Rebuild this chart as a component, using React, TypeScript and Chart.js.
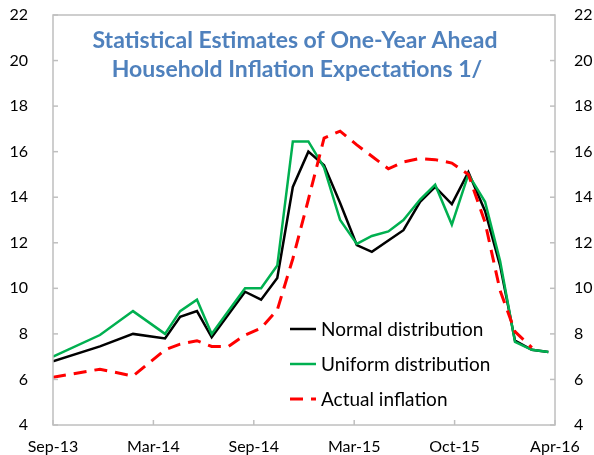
import { useEffect, useRef } from "react";
import { Chart, registerables } from "chart.js";

Chart.register(...registerables);

// ---- data ----
const tickLabels = ["Sep-13", "Mar-14", "Sep-14", "Mar-15", "Oct-15", "Apr-16"];
const tickPositions = [0, 6.2, 12.4, 18.6, 24.8, 31];
const xPositions = [
  0, 2.9, 4.94, 6.92, 7.85, 8.89, 9.8, 10.83, 11.86, 12.85, 13.85, 14.81, 15.77, 16.74,
  17.73, 18.76, 19.69, 20.71, 21.64, 22.67, 23.6, 24.63, 25.65, 26.68, 27.61, 28.53, 29.57, 30.59,
];
const normalDist = [
  6.8, 7.45, 8.0, 7.8, 8.75, 9.0, 7.85, 8.85, 9.85, 9.5, 10.45, 14.45, 16.0, 15.4,
  13.75, 11.9, 11.6, 12.1, 12.55, 13.8, 14.45, 13.7, 15.1, 13.4, 11.0, 7.7, 7.3, 7.2,
];
const uniformDist = [
  7.0, 7.95, 9.0, 8.0, 9.0, 9.5, 8.0, 9.0, 10.0, 10.0, 11.0, 16.45, 16.45, 15.3,
  13.0, 11.95, 12.3, 12.5, 13.0, 13.9, 14.55, 12.8, 15.0, 13.8, 11.2, 7.65, 7.3, 7.2,
];
const actualInflation = [
  6.1, 6.45, 6.15, 7.3, 7.55, 7.7, 7.45, 7.45, 7.95, 8.25, 9.05, 11.3, 13.9, 16.6,
  16.9, 16.3, 15.8, 15.25, 15.55, 15.7, 15.65, 15.5, 15.0, 12.9, 9.9, 8.1, 7.4, null,
];
const seriesNames = ["Normal distribution", "Uniform distribution", "Actual inflation"];
const titleLines = ["Statistical Estimates of One-Year Ahead", "Household Inflation Expectations 1/"];

const toPoints = (vals: (number | null)[]) =>
  vals.map((v, i) => ({ x: xPositions[i], y: v }));

const COLORS = ["#000000", "#00B050", "#FF0000"];
const AXIS = "#BFBFBF";
const FONT = "Lato";

const decor = {
  id: "decor",
  afterDraw(chart: any) {
    const { ctx, chartArea: a, scales } = chart;
    ctx.save();
    ctx.strokeStyle = AXIS;
    ctx.lineWidth = 1.5;
    ctx.strokeRect(a.left, a.top, a.right - a.left, a.bottom - a.top);
    const seg = (x1: number, y1: number, x2: number, y2: number) => {
      ctx.beginPath();
      ctx.moveTo(x1, y1);
      ctx.lineTo(x2, y2);
      ctx.stroke();
    };
    const ys = scales.y;
    ys.ticks.forEach((t: any) => {
      const py = ys.getPixelForValue(t.value);
      seg(a.left, py, a.left + 5, py);
      seg(a.right - 5, py, a.right, py);
    });
    const xs = scales.x;
    xs.ticks.forEach((t: any) => {
      const px = xs.getPixelForValue(t.value);
      seg(px, a.bottom, px, a.bottom - 5);
    });

    // title
    ctx.fillStyle = "#4F81BD";
    ctx.font = `bold 23px ${FONT}`;
    ctx.textAlign = "center";
    ctx.textBaseline = "alphabetic";
    ctx.fillText(titleLines[0], 295, 48);
    ctx.fillText(titleLines[1], 297, 77);

    // legend
    const rows = [329, 364, 399];
    ctx.font = `19px ${FONT}`;
    ctx.textAlign = "left";
    ctx.textBaseline = "middle";
    rows.forEach((ry, i) => {
      ctx.strokeStyle = COLORS[i];
      ctx.lineWidth = i === 2 ? 3 : 2.5;
      ctx.setLineDash(i === 2 ? [13, 8] : []);
      seg(290, ry, 316, ry);
      ctx.setLineDash([]);
      ctx.fillStyle = "#000";
      ctx.fillText(seriesNames[i], 321, ry + 1);
    });
    ctx.restore();
  },
};

export default function App() {
  const ref = useRef<HTMLCanvasElement | null>(null);
  useEffect(() => {
    document.body.style.margin = "0";
    const canvas = ref.current!;
    const yCommon = {
      min: 4,
      max: 22,
      ticks: { stepSize: 2, color: "#000", font: { family: FONT, size: 16 } },
      grid: { display: false },
      border: { display: false },
    };
    const chart = new Chart(canvas, {
      type: "line",
      data: {
        datasets: [
          {
            label: seriesNames[0],
            data: toPoints(normalDist),
            borderColor: COLORS[0],
            borderWidth: 2.5,
            pointRadius: 0,
            order: 2,
          },
          {
            label: seriesNames[1],
            data: toPoints(uniformDist),
            borderColor: COLORS[1],
            borderWidth: 2.5,
            pointRadius: 0,
            order: 1,
          },
          {
            label: seriesNames[2],
            data: toPoints(actualInflation),
            borderColor: COLORS[2],
            borderWidth: 3,
            borderDash: [13, 8],
            pointRadius: 0,
            order: 0,
          },
        ],
      },
      options: {
        responsive: false,
        animation: false,
        events: [],
        layout: { padding: { top: 15, left: 0, right: 0, bottom: 0 } },
        plugins: { legend: { display: false }, tooltip: { enabled: false } },
        scales: {
          x: {
            type: "linear",
            min: 0,
            max: 31,
            afterBuildTicks: (s: any) => {
              s.ticks = tickPositions.map((v) => ({ value: v }));
            },
            afterFit: (s: any) => {
              s.height = 30;
              s.paddingLeft = 0;
              s.paddingRight = 0;
            },
            ticks: {
              autoSkip: false,
              maxRotation: 0,
              padding: 12,
              color: "#000",
              font: { family: FONT, size: 16 },
              callback: (_v: any, i: number) => tickLabels[i],
            },
            grid: { display: false, drawTicks: false },
            border: { display: false },
          },
          y: {
            ...yCommon,
            position: "left",
            ticks: { ...yCommon.ticks, padding: 17 },
            afterFit: (s: any) => {
              s.width = 53;
              s.paddingTop = 0;
              s.paddingBottom = 0;
            },
          },
          y2: {
            ...yCommon,
            position: "right",
            ticks: { ...yCommon.ticks, padding: 11 },
            afterFit: (s: any) => {
              s.width = 39;
              s.paddingTop = 0;
              s.paddingBottom = 0;
            },
          },
        },
      } as any,
      plugins: [decor],
    });
    return () => chart.destroy();
  }, []);
  return <canvas ref={ref} width={594} height={455} style={{ display: "block" }} />;
}
